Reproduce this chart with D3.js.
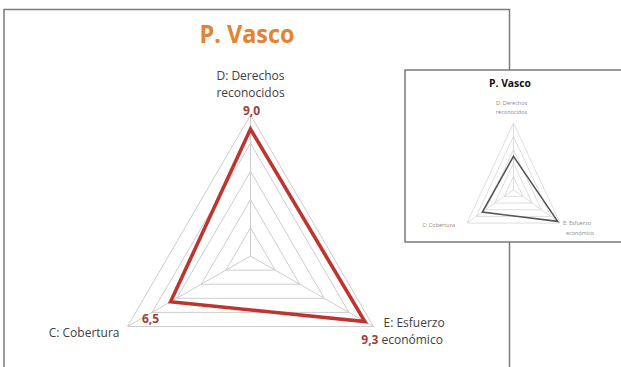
<!DOCTYPE html>
<html><head><meta charset="utf-8">
<script src="https://cdn.jsdelivr.net/npm/d3@7"></script>
<style>
html,body{margin:0;padding:0;background:#fff;}
svg{display:block;font-family:"Open Sans",sans-serif;}
</style></head>
<body>
<svg id="c" width="621" height="367"></svg>
<script>
// ---- data ----
const title = "P. Vasco";
const axisNames = ["D", "E", "C"];
const axisLabels = [["D: Derechos", "reconocidos"], ["E: Esfuerzo", "económico"], ["C: Cobertura"]];
const values = [9.0, 9.3, 6.5];
const valueLabels = ["9,0", "9,3", "6,5"];
const insetValues = [5.0, 9.5, 6.7];
const ringTicks = [2, 4, 6, 8, 10];
const axisAngles = [-90, 30, 150]; // degrees, D top, E bottom-right, C bottom-left

const svg = d3.select("#c");
const toRad = d => d * Math.PI / 180;

function radar(g, cx, cy, rx, ry, opts) {
  const r = d3.scaleLinear().domain([0, 10]).range([0, 1]);
  const pt = (i, v) => [cx + rx * r(v) * Math.cos(toRad(axisAngles[i])), cy + ry * r(v) * Math.sin(toRad(axisAngles[i]))];
  const line = d3.line().curve(d3.curveLinearClosed);
  // rings
  g.selectAll("path.ring").data(ringTicks).join("path")
    .attr("class", "ring")
    .attr("d", t => line(axisNames.map((_, i) => pt(i, t))))
    .attr("fill", "none").attr("stroke", opts.gridColor).attr("stroke-width", opts.gridWidth);
  // spokes
  g.selectAll("line.spoke").data(axisNames).join("line")
    .attr("class", "spoke")
    .attr("x1", cx).attr("y1", cy)
    .attr("x2", (_, i) => pt(i, 10)[0]).attr("y2", (_, i) => pt(i, 10)[1])
    .attr("stroke", opts.gridColor).attr("stroke-width", opts.gridWidth);
  // series
  g.append("path")
    .attr("d", line(opts.vals.map((v, i) => pt(i, v))))
    .attr("fill", "none").attr("stroke", opts.lineColor).attr("stroke-width", opts.lineWidth)
    .attr("stroke-linejoin", "miter");
  return pt;
}

// ---- main frame ----
svg.append("rect").attr("x", 4).attr("y", 9.5).attr("width", 505.5).attr("height", 400)
  .attr("fill", "#fff").attr("stroke", "#7a7a7a").attr("stroke-width", 1.5);

svg.append("text").attr("x", 247).attr("y", 42.5).attr("text-anchor", "middle")
  .attr("font-size", 25).attr("font-weight", 700).attr("fill", "#E3832F")
  .attr("textLength", 95).attr("lengthAdjust", "spacingAndGlyphs")
  .text(title);

const mg = svg.append("g");
const mcx = 250.5, mcy = 256, mrx = 142, mry = 141;
const mpt = radar(mg, mcx, mcy, mrx, mry, {gridColor: "#cdcdcd", gridWidth: 1, vals: values, lineColor: "#BE3530", lineWidth: 3.6});

const labelColor = "#404040";
const valColor = "#A23E37";
// D label
const pD = mpt(0, 10);
mg.append("text").attr("x", pD[0]).attr("y", pD[1] - 35).attr("text-anchor", "middle")
  .attr("font-size", 12).attr("fill", labelColor).text(axisLabels[0][0]);
mg.append("text").attr("x", pD[0]).attr("y", pD[1] - 18).attr("text-anchor", "middle")
  .attr("font-size", 12).attr("fill", labelColor).text(axisLabels[0][1]);
mg.append("text").attr("x", pD[0] + 1).attr("y", pD[1] - 0.5).attr("text-anchor", "middle")
  .attr("font-size", 12).attr("font-weight", 700).attr("fill", valColor).text(valueLabels[0]);
// E label
const pE = mpt(1, 10);
mg.append("text").attr("x", pE[0] + 10).attr("y", pE[1] + 0).attr("text-anchor", "start")
  .attr("font-size", 12).attr("fill", labelColor).text(axisLabels[1][0]);
mg.append("text").attr("x", pE[0] + 8).attr("y", pE[1] + 17.5).attr("text-anchor", "start")
  .attr("font-size", 12).attr("fill", labelColor).text(axisLabels[1][1]);
mg.append("text").attr("x", pE[0] + 5).attr("y", pE[1] + 17.5).attr("text-anchor", "end")
  .attr("font-size", 12).attr("font-weight", 700).attr("fill", valColor).text(valueLabels[1]);
// C label
const pC = mpt(2, 10);
mg.append("text").attr("x", pC[0] - 8).attr("y", pC[1] + 10).attr("text-anchor", "end")
  .attr("font-size", 12).attr("fill", labelColor).text(axisLabels[2][0]);
mg.append("text").attr("x", pC[0] + 23).attr("y", pC[1] - 4).attr("text-anchor", "middle")
  .attr("font-size", 12).attr("font-weight", 700).attr("fill", valColor).text(valueLabels[2]);

// ---- inset ----
svg.append("rect").attr("x", 405).attr("y", 70).attr("width", 230).attr("height", 172)
  .attr("fill", "#fff").attr("stroke", "#7a7a7a").attr("stroke-width", 1.5);
svg.append("text").attr("x", 510).attr("y", 87).attr("text-anchor", "middle")
  .attr("font-size", 11).attr("font-weight", 700).attr("fill", "#111")
  .attr("textLength", 42).attr("lengthAdjust", "spacingAndGlyphs").text(title);

const ig = svg.append("g");
const icx = 513.5, icy = 189.7, irx = 53.7, iry = 66.7;
const ipt = radar(ig, icx, icy, irx, iry, {gridColor: "#d6d6d6", gridWidth: 0.8, vals: insetValues, lineColor: "#555", lineWidth: 1.6});
const smallColor = "#8a8a8a";
const iD = ipt(0, 10);
ig.append("text").attr("x", iD[0] - 2).attr("y", iD[1] - 18).attr("text-anchor", "middle")
  .attr("font-size", 5.5).attr("fill", smallColor).text(axisLabels[0][0]);
ig.append("text").attr("x", iD[0] - 2).attr("y", iD[1] - 9).attr("text-anchor", "middle")
  .attr("font-size", 5.5).attr("fill", smallColor).text(axisLabels[0][1]);
const iE = ipt(1, 10);
ig.append("text").attr("x", iE[0] + 3).attr("y", iE[1] + 2).attr("text-anchor", "start")
  .attr("font-size", 5.5).attr("fill", smallColor).text(axisLabels[1][0]);
ig.append("text").attr("x", iE[0] + 6).attr("y", iE[1] + 12).attr("text-anchor", "start")
  .attr("font-size", 5.5).attr("fill", smallColor).text(axisLabels[1][1]);
const iC = ipt(2, 10);
ig.append("text").attr("x", iC[0] - 12).attr("y", iC[1] + 4).attr("text-anchor", "end")
  .attr("font-size", 5.5).attr("fill", smallColor).text(axisLabels[2][0]);
</script>
</body></html>
